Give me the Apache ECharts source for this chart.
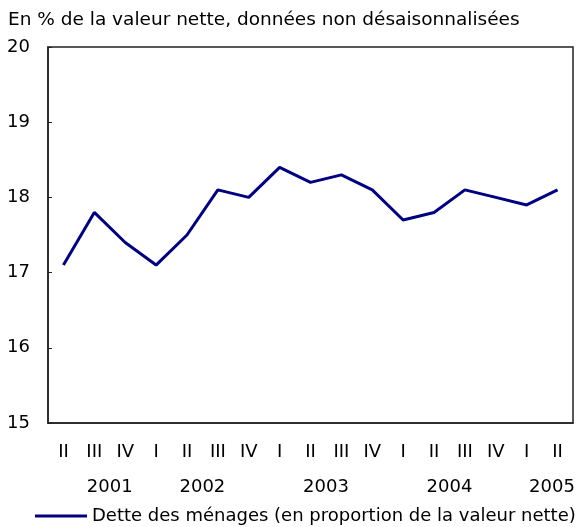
<!DOCTYPE html>
<html><head><meta charset="utf-8">
<script src="https://cdn.jsdelivr.net/npm/echarts@6/dist/echarts.min.js"></script>
<style>html,body{margin:0;padding:0;background:#fff}#c{width:579px;height:527px}</style>
</head><body><div id="c"></div>
<script>
const quarters = ['II','III','IV','I','II','III','IV','I','II','III','IV','I','II','III','IV','I','II'];
const debtRatio = [17.1,17.8,17.4,17.1,17.5,18.1,18.0,18.4,18.2,18.3,18.1,17.7,17.8,18.1,18.0,17.9,18.1];
const yearLabels = {2:'2001',5:'2002',9:'2003',13:'2004',17:'2005'};
const seriesName = 'Dette des ménages (en proportion de la valeur nette)';
const unitTitle = 'En % de la valeur nette, données non désaisonnalisées';

const font = '"DejaVu Sans", sans-serif';
const fs = 18;
const chart = echarts.init(document.getElementById('c'));
chart.setOption({
  animation:false,
  textStyle:{fontFamily:font},
  title:{text:unitTitle,left:3,top:6,textStyle:{fontSize:18.5,fontWeight:'normal',color:'#000',fontFamily:font}},
  grid:{left:48,right:6,top:47,bottom:104,show:true,borderColor:'#222',borderWidth:1.5},
  legend:{left:30,top:502,icon:'rect',itemWidth:52,itemHeight:3,itemGap:5,
    textStyle:{fontSize:fs,color:'#000',fontFamily:font},data:[seriesName]},
  xAxis:[{type:'category',data:quarters,boundaryGap:true,
    axisLine:{lineStyle:{color:'#222',width:1.5}},
    axisTick:{inside:true,length:4,lineStyle:{color:'#222'}},
    axisLabel:{color:'#000',fontSize:fs,margin:20,interval:0,fontFamily:font}},
   {type:'value',position:'bottom',min:0,max:17,interval:1,
    axisLine:{show:false},axisTick:{show:false},splitLine:{show:false},
    axisLabel:{color:'#000',fontSize:fs,margin:55,showMinLabel:true,showMaxLabel:true,fontFamily:font,
      formatter:function(v){const y=yearLabels[Math.round(v)]; if(!y) return ''; return Math.round(v)===17?'{r|'+y+'}':y;},
      rich:{r:{fontSize:fs,color:'#000',padding:[0,42,0,0],fontFamily:font}}}}],
  yAxis:{type:'value',min:15,max:20,interval:1,
    axisLine:{show:true,lineStyle:{color:'#222',width:1.5}},
    axisTick:{show:true,inside:true,length:4,lineStyle:{color:'#222'}},
    splitLine:{show:false},
    axisLabel:{color:'#000',fontSize:fs,margin:18,fontFamily:font}},
  series:[{name:seriesName,type:'line',data:debtRatio,symbol:'none',
    lineStyle:{color:'#000080',width:3},itemStyle:{color:'#000080'}}]
});
</script></body></html>
